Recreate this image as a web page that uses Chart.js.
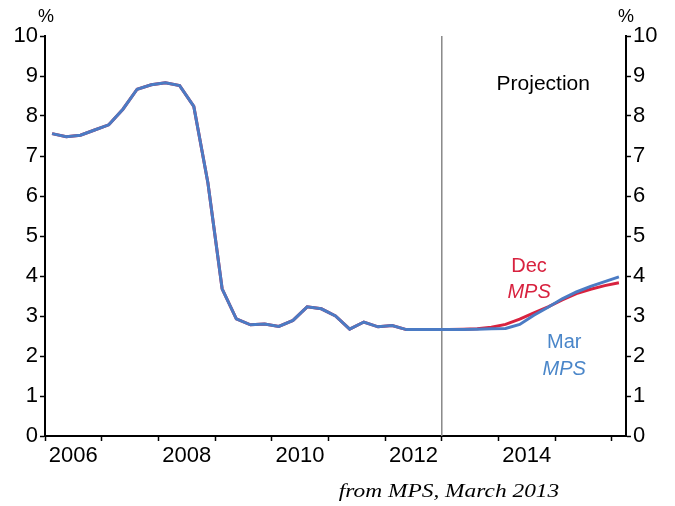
<!DOCTYPE html>
<html>
<head>
<meta charset="utf-8">
<script src="https://cdn.jsdelivr.net/npm/chart.js@4.4.1/dist/chart.umd.min.js"></script>
<style>
  html, body { margin: 0; padding: 0; background: #fff; }
  #wrap { width: 675px; height: 506px; }
</style>
</head>
<body>
<div id="wrap"><canvas id="rateChart"></canvas></div>
<script>
  // quarterly, 2006 Q1 .. 2016 Q1
  const startYear = 2006;
  const yearLabels = ['2006', '2008', '2010', '2012', '2014'];
  const yTicks = [0, 1, 2, 3, 4, 5, 6, 7, 8, 9, 10];
  const projectionStart = 2013;

  const marMps = [7.56, 7.48, 7.52, 7.65, 7.78, 8.17, 8.67, 8.78, 8.83, 8.76,
    8.24, 6.32, 3.68, 2.93, 2.78, 2.80, 2.74, 2.89, 3.23, 3.18,
    3.00, 2.67, 2.85, 2.73, 2.76, 2.66, 2.66, 2.66, 2.66, 2.66,
    2.67, 2.68, 2.69, 2.79, 3.02, 3.22, 3.43, 3.60, 3.74, 3.86, 3.98];

  const decMps = [7.56, 7.48, 7.52, 7.65, 7.78, 8.17, 8.67, 8.78, 8.83, 8.76,
    8.24, 6.32, 3.68, 2.93, 2.78, 2.80, 2.74, 2.89, 3.23, 3.18,
    3.00, 2.67, 2.85, 2.73, 2.76, 2.66, 2.66, 2.66, 2.66, 2.67,
    2.68, 2.72, 2.79, 2.92, 3.08, 3.23, 3.40, 3.56, 3.67, 3.76, 3.83];

  const quarterX = i => startYear + (i + 0.5) / 4;
  const toPoints = arr => arr.map((v, i) => ({ x: quarterX(i), y: v }));

  const BLUE = '#4b7bc4';
  const RED = '#d8223f';
  const FONT = '"Liberation Sans", Arial, Helvetica, sans-serif';

  // text labels, placed in data coordinates
  const notes = [
    { text: 'Projection', x: 2014.79, y: 8.8, color: '#000', italic: false, size: 21 },
    { text: 'Dec', x: 2014.54, y: 4.25, color: RED, italic: false, size: 20 },
    { text: 'MPS', x: 2014.54, y: 3.6, color: RED, italic: true, size: 20 },
    { text: 'Mar', x: 2015.16, y: 2.33, color: '#4a86c9', italic: false, size: 20 },
    { text: 'MPS', x: 2015.16, y: 1.66, color: '#4a86c9', italic: true, size: 20 }
  ];

  const textPlugin = {
    id: 'texts',
    afterDraw(chart) {
      const ctx = chart.ctx;
      const xs = chart.scales.x, ys = chart.scales.y;
      const area = chart.chartArea;
      ctx.save();
      ctx.textAlign = 'center';
      ctx.textBaseline = 'middle';
      notes.forEach(n => {
        ctx.fillStyle = n.color;
        ctx.font = (n.italic ? 'italic ' : '') + n.size + 'px ' + FONT;
        ctx.fillText(n.text, xs.getPixelForValue(n.x), ys.getPixelForValue(n.y));
      });
      // unit labels
      ctx.fillStyle = '#000';
      ctx.font = '18px ' + FONT;
      ctx.fillText('%', area.left + 1, 17);
      ctx.fillText('%', area.right, 17);
      // source, slightly stretched like the original
      ctx.translate(449, 492);
      ctx.scale(1.2, 1);
      ctx.font = 'italic 19.5px "Liberation Serif", "Times New Roman", serif';
      ctx.fillText('from MPS, March 2013', 0, 0);
      ctx.restore();
    }
  };

  const yAxis = (pos) => ({
    position: pos,
    min: 0,
    max: 10,
    afterBuildTicks: axis => { axis.ticks = yTicks.map(v => ({ value: v })); },
    afterFit: axis => { axis.width = pos === 'left' ? 45 : 49; },
    ticks: { color: '#000', font: { family: FONT, size: 22 }, padding: 2 },
    grid: { drawOnChartArea: false, drawTicks: true, tickLength: 5, color: '#000', tickWidth: 1.5 },
    border: { color: '#000', width: 2 }
  });

  new Chart(document.getElementById('rateChart'), {
    type: 'line',
    data: {
      datasets: [{
        data: toPoints(marMps),
        borderColor: BLUE,
        borderWidth: 3,
        pointRadius: 0,
        tension: 0
      }, {
        data: toPoints(decMps),
        borderColor: RED,
        borderWidth: 3,
        pointRadius: 0,
        tension: 0
      }, {
        data: [{ x: projectionStart, y: 0 }, { x: projectionStart, y: 10 }],
        borderColor: '#888',
        borderWidth: 1.5,
        pointRadius: 0
      }]
    },
    options: {
      responsive: true,
      maintainAspectRatio: false,
      animation: false,
      layout: { padding: { top: 36, left: 0, right: 0, bottom: 0 } },
      plugins: { legend: { display: false }, tooltip: { enabled: false } },
      scales: {
        x: {
          type: 'linear',
          min: 2006,
          max: 2016.25,
          afterBuildTicks: axis => {
            const t = [];
            for (let y = 2006; y <= 2016; y++) {
              t.push({ value: y });
              if (y < 2016) t.push({ value: y + 0.5 });
            }
            axis.ticks = t;
          },
          afterFit: axis => { axis.height = 70; },
          ticks: {
            autoSkip: false,
            maxRotation: 0,
            color: '#000',
            padding: 2,
            font: { family: FONT, size: 22 },
            callback: v => {
              const lbl = String(Math.floor(v));
              return (v % 1 !== 0 && yearLabels.includes(lbl)) ? lbl : '';
            }
          },
          grid: {
            drawOnChartArea: false,
            tickLength: 5,
            tickWidth: 1.5,
            tickColor: c => Number.isInteger(c.tick.value) ? '#000' : 'rgba(0,0,0,0)'
          },
          border: { color: '#000', width: 2 }
        },
        y: yAxis('left'),
        y2: yAxis('right')
      }
    },
    plugins: [textPlugin]
  });
</script>
</body>
</html>
